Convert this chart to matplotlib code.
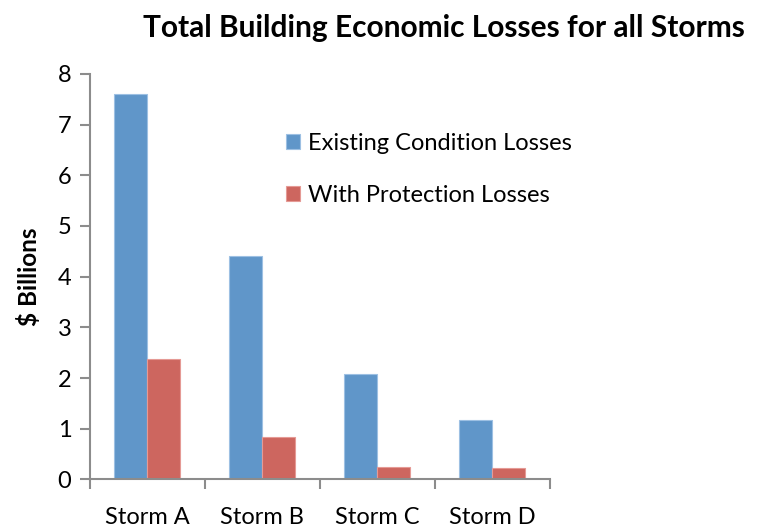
import matplotlib
matplotlib.use("Agg")
import matplotlib.pyplot as plt
import numpy as np

plt.rcParams['font.family'] = ['Lato', 'DejaVu Sans']

storms = ["Storm A", "Storm B", "Storm C", "Storm D"]
existing = [7.6, 4.4, 2.08, 1.17]
protected = [2.37, 0.84, 0.245, 0.22]

blue = "#6096c9"
red = "#cd665f"
axis_grey = "#8c8c8c"

fig = plt.figure(figsize=(7.62, 5.28), dpi=100)
ax = fig.add_axes([0.1175, 0.092, 0.604, 0.768])

x = np.arange(len(storms))
w = 0.287
ax.bar(x - w / 2, existing, w, color=blue, edgecolor="#9dc0e3", linewidth=0.8,
       label="Existing Condition Losses")
ax.bar(x + w / 2, protected, w, color=red, edgecolor="#e59a95", linewidth=0.8,
       label="With Protection Losses")

ax.set_xlim(-0.5, len(storms) - 0.5)
ax.set_ylim(0, 8)
ax.set_yticks(range(0, 9))

# category labels centred, tick marks between categories
ax.set_xticks(x)
ax.set_xticklabels(storms, fontsize=17)
ax.set_xticks(np.arange(len(storms) + 1) - 0.5, minor=True)
ax.tick_params(axis="x", which="major", length=0, pad=20)
ax.tick_params(axis="x", which="minor", length=7, width=1.5, color=axis_grey, direction="out")
ax.tick_params(axis="y", length=7, width=1.5, color=axis_grey, labelsize=17, pad=6)

for side in ("top", "right"):
    ax.spines[side].set_visible(False)
for side in ("left", "bottom"):
    ax.spines[side].set_color(axis_grey)
    ax.spines[side].set_linewidth(1.5)

ax.set_ylabel("$ Billions", fontsize=17.5, fontweight="bold", labelpad=12)
fig.text(0.582, 0.947, "Total Building Economic Losses for all Storms",
         fontsize=21.5, fontweight="bold", ha="center", va="center")

ax.legend(loc="upper left", bbox_to_anchor=(0.38, 0.906), frameon=False, fontsize=17,
          handlelength=0.6, handleheight=0.6, handletextpad=0.35, labelspacing=1.3)

fig.savefig("out.png", dpi=100)
